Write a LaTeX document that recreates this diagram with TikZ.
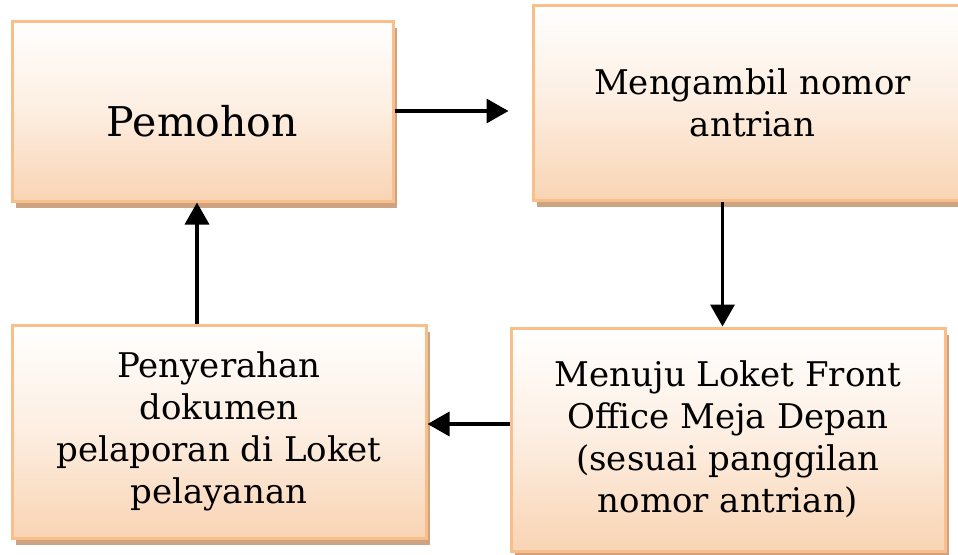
\documentclass[tikz,border=0pt]{standalone}
\usepackage{fontspec}
\setmainfont{DejaVu Serif}
\usetikzlibrary{positioning,arrows.meta,shadows,calc}
\definecolor{peach}{HTML}{F9D4B4}
\definecolor{peachline}{HTML}{F9BF8B}
\definecolor{shadowtan}{HTML}{CEA382}

\begin{document}
\begin{tikzpicture}[x=1pt, y=-1pt,
  stepbox/.style={draw=peachline, line width=3pt, top color=white,
    bottom color=peach, middle color=peach!40!white, align=center,
    font=\fontsize{34}{42}\selectfont, inner sep=0pt,
    drop shadow={shadow xshift=4pt, shadow yshift=-7pt, fill=shadowtan, opacity=1}},
  arrow/.style={-{Triangle[length=22pt, width=24pt]}, line width=3.5pt, black}
]
\useasboundingbox (0,0) rectangle (958,554);

% Boxes
\node[stepbox, minimum width=381pt, minimum height=180pt,
  font=\fontsize{41}{48}\selectfont, text height=51pt]
  (pemohon) at (202.5,111) {Pemohon};
\node[stepbox, minimum width=439pt, minimum height=195pt]
  (ambil) at (752.5,102.5) {Mengambil nomor\\antrian};
\node[stepbox, minimum width=414pt, minimum height=213pt]
  (serah) at (219,431.5) {Penyerahan\\dokumen\\pelaporan di Loket\\pelayanan};
\node[stepbox, minimum width=434pt, minimum height=223pt]
  (loket) at (728,439.5) {Menuju Loket Front\\Office Meja Depan\\(sesuai panggilan\\nomor antrian)};

% Arrows
\draw[arrow] (pemohon.east) -- ([xshift=-23pt]pemohon.east -| ambil.west);
\draw[arrow] ([xshift=-30pt]ambil.south) -- ([xshift=-30pt]ambil.south |- loket.north);
\draw[arrow] ([yshift=15.5pt]loket.west) -- ([yshift=15.5pt]loket.west -| serah.east);
\draw[arrow] ([xshift=-22pt]serah.north) -- ([xshift=-22pt]serah.north |- pemohon.south);
\end{tikzpicture}
\end{document}
